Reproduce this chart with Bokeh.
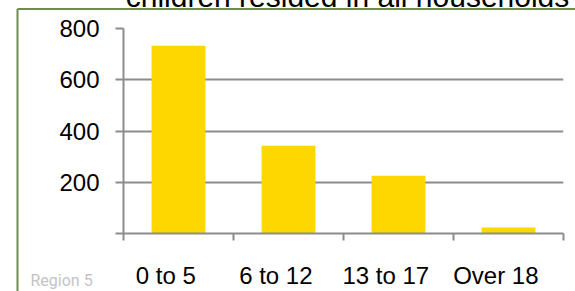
from bokeh.plotting import figure
from bokeh.models import Range1d, FixedTicker
from bokeh.core.properties import value
from bokeh.embed import file_html
from bokeh.resources import INLINE

categories = ["0 to 5", "6 to 12", "13 to 17", "Over 18"]
values = [733, 342, 225, 23]
y_ticks = [0, 200, 400, 600, 800]
title_text = "children resided in all households"
footer_text = "Region 5"

W, H = 567, 315
centers = [i + 0.5 for i in range(len(categories))]
label_pos = [c - 0.115 for c in centers]
bounds = list(range(len(categories) + 1))

# main chart
p = figure(width=W, height=H, output_backend="svg", toolbar_location=None,
           x_range=Range1d(0, len(categories)), y_range=Range1d(0, 800),
           min_border_left=115, min_border_right=12, min_border_top=52, min_border_bottom=52)
p.margin = (-24, 0, 0, 8)
p.outline_line_color = None
p.background_fill_color = "white"
p.border_fill_color = "white"

p.vbar(x=centers, top=values, width=0.49, color="#FFD700", line_color=None)

grey = "#8c8c8c"
p.xgrid.visible = False
p.ygrid.grid_line_color = grey
p.ygrid.grid_line_width = 2
p.ygrid.ticker = FixedTicker(ticks=y_ticks)

xa = p.xaxis[0]
xa.ticker = FixedTicker(ticks=label_pos, minor_ticks=bounds)
xa.major_label_overrides = {c: lab for c, lab in zip(label_pos, categories)}
xa.major_tick_line_color = None
xa.minor_tick_line_color = grey
xa.minor_tick_line_width = 2
xa.minor_tick_out = 7
xa.minor_tick_in = 0
xa.axis_line_color = grey
xa.axis_line_width = 2
xa.major_label_standoff = 21
xa.major_label_text_font = "Liberation Sans"
xa.major_label_text_font_size = "24px"
xa.major_label_text_color = "black"

ya = p.yaxis[0]
ya.ticker = FixedTicker(ticks=y_ticks)
ya.major_label_overrides = {0: ""}
ya.major_tick_line_color = grey
ya.major_tick_line_width = 2
ya.major_tick_out = 8
ya.major_tick_in = 0
ya.minor_tick_line_color = None
ya.axis_line_color = grey
ya.axis_line_width = 2
ya.major_label_standoff = 16
ya.major_label_text_font = "Liberation Sans"
ya.major_label_text_font_size = "24px"
ya.major_label_text_color = "black"

# overlay for chart frame, title and footer (pixel coordinates of the canvas)
q = figure(width=W, height=H, output_backend="svg", toolbar_location=None,
           x_range=Range1d(0, W), y_range=Range1d(H, 0),
           x_axis_type=None, y_axis_type=None,
           min_border_left=0, min_border_right=0, min_border_top=0, min_border_bottom=0)
q.margin = (-H, 0, 0, 8)
q.grid.visible = False
q.outline_line_color = None
q.background_fill_alpha = 0
q.border_fill_alpha = 0

q.multi_line(xs=[[9, 9], [9, W + 10]], ys=[[32.5, H + 10], [32.5, 32.5]],
             line_color="#6f8b4e", line_width=2)
q.text(x=[339], y=[20], text=[title_text], text_align="center",
       text_baseline="alphabetic", text_font=value("Liberation Sans"),
       text_font_size=value("30px"), text_color="black")
q.text(x=[22], y=[304], text=[footer_text], text_align="left",
       text_baseline="alphabetic", text_font=value("Roboto"),
       text_font_size=value("16px"), text_color="#c4c4c4")

open("out.html", "w").write(file_html([p, q], INLINE))
